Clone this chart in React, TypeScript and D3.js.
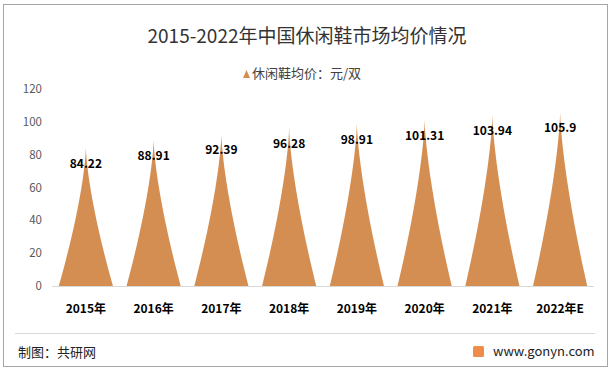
import React from 'react';
import * as d3 from 'd3';

const width = 614;
const height = 372;

const years = ['2015年', '2016年', '2017年', '2018年', '2019年', '2020年', '2021年', '2022年E'];
const prices = [84.22, 88.91, 92.39, 96.28, 98.91, 101.31, 103.94, 105.9];
const priceLabels = ['84.22', '88.91', '92.39', '96.28', '98.91', '101.31', '103.94', '105.9'];
const yTicks = [0, 20, 40, 60, 80, 100, 120];

const plot = { left: 52, right: 594, top: 89, bottom: 286 };
const fill = '#D58E52';
const font = '"Noto Sans CJK SC", "Noto Sans", sans-serif';

// spike outline: half width shrinks with height, sides bend inwards
const steps = d3.range(0, 1.0001, 0.04);
const spikePath = (cx: number, half: number, base: number, top: number): string => {
  const h = base - top;
  const left = steps.map((f) => [cx - half * Math.pow(1 - f, 1.45), base - h * f] as [number, number]);
  const right = steps
    .slice()
    .reverse()
    .map((f) => [cx + half * Math.pow(1 - f, 1.45), base - h * f] as [number, number]);
  return (d3.line()(left.concat(right)) || '') + 'Z';
};

export default function App(): JSX.Element {
  const x = d3
    .scaleBand<string>()
    .domain(years)
    .range([plot.left, plot.right])
    .paddingInner(0.2)
    .paddingOuter(0.1);
  const y = d3.scaleLinear().domain([0, 120]).range([plot.bottom, plot.top]);

  return (
    <svg
      width={width}
      height={height}
      style={{ position: 'absolute', left: 0, top: 0, background: '#fff' }}
      fontFamily={font}
    >
      <rect x={3.5} y={4.5} width={604} height={362} fill="#fff" stroke="#a6a6a6" strokeWidth={1} />

      <text x={307} y={43} textAnchor="middle" fontSize={19} fill="#333">
        2015-2022年中国休闲鞋市场均价情况
      </text>

      {/* legend */}
      <path d="M243,78 L246.5,70 L250,78 Z" fill={fill} />
      <text x={252} y={78} fontSize={13} fill="#404040">
        休闲鞋均价：元/双
      </text>

      {/* y axis labels */}
      {yTicks.map((t) => (
        <text key={t} x={42} y={y(t) + 4} textAnchor="end" fontSize={11.5} fill="#595959">
          {t}
        </text>
      ))}

      {/* spikes */}
      {years.map((yr, i) => {
        const cx = (x(yr) || 0) + x.bandwidth() / 2;
        return (
          <path key={yr} d={spikePath(cx, x.bandwidth() / 2, y(0), y(prices[i]))} fill={fill} />
        );
      })}

      <line x1={plot.left} x2={plot.right} y1={y(0) + 0.5} y2={y(0) + 0.5} stroke="#d9d9d9" />

      {/* value labels */}
      {years.map((yr, i) => (
        <text
          key={yr}
          x={(x(yr) || 0) + x.bandwidth() / 2}
          y={y(prices[i]) + 20}
          textAnchor="middle"
          fontSize={12}
          fontWeight="bold"
          fill="#000"
        >
          {priceLabels[i]}
        </text>
      ))}

      {/* x labels */}
      {years.map((yr) => (
        <text
          key={yr}
          x={(x(yr) || 0) + x.bandwidth() / 2}
          y={313}
          textAnchor="middle"
          fontSize={12}
          fontWeight="bold"
          fill="#000"
        >
          {yr}
        </text>
      ))}

      {/* footer */}
      <line x1={15} x2={595} y1={333.5} y2={333.5} stroke="#d9d9d9" />
      <text x={18} y={357} fontSize={13} fill="#222">
        制图：共研网
      </text>
      <rect x={473} y={346} width={11} height={11} rx={1.5} fill="#f08c4a" />
      <text x={493} y={356} fontSize={13} fill="#222">
        www.gonyn.com
      </text>
    </svg>
  );
}
